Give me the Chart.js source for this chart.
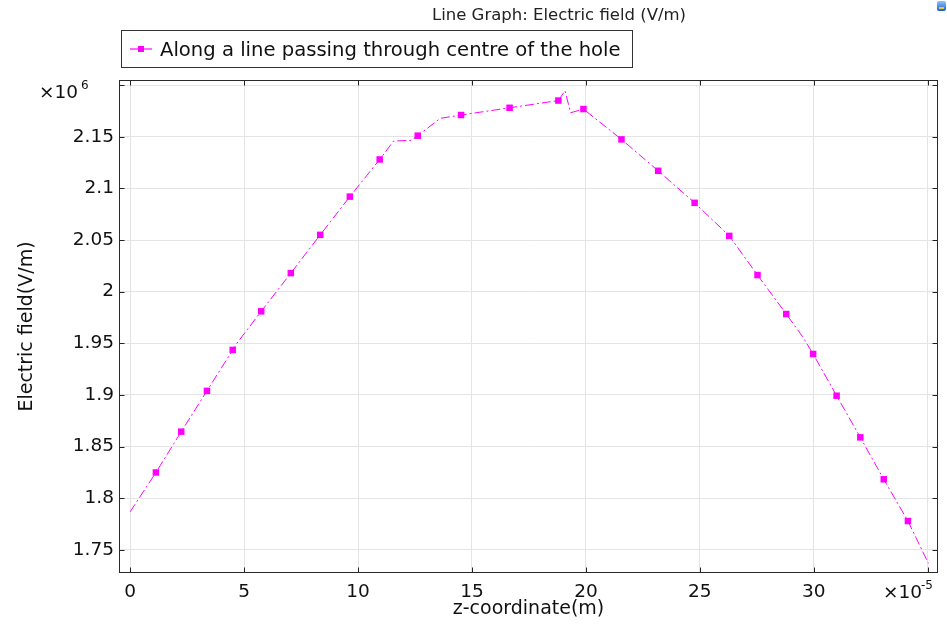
<!DOCTYPE html>
<html>
<head>
<meta charset="utf-8">
<title>Line Graph: Electric field (V/m)</title>
<script src="https://cdn.jsdelivr.net/npm/chart.js@4.4.1/dist/chart.umd.min.js"></script>
<style>
  html, body { margin: 0; padding: 0; background: #ffffff; }
  #wrap { width: 947px; height: 624px; }
</style>
</head>
<body>
<div id="wrap"><canvas id="chart" width="947" height="624"></canvas></div>
<script>
// z-coordinate in units of 1e-5 m
const zCoord = [0, 1.13, 2.24, 3.37, 4.50, 4.68, 5.75, 7.05, 8.34, 9.64, 10.95, 11.56, 12.32, 12.62,
  13.61, 14.52, 16.65, 18.79, 19.08, 19.33, 19.89, 21.56, 23.17, 24.77, 26.29, 27.53, 28.79, 29.51,
  29.97, 31.00, 32.04, 33.07, 34.13, 35.03];
// electric field in units of 1e6 V/m
const eField = [1.787, 1.825, 1.8645, 1.904, 1.9436, 1.950, 1.981, 2.018, 2.055, 2.092, 2.128, 2.1458,
  2.1465, 2.151, 2.1678, 2.171, 2.178, 2.185, 2.1945, 2.1732, 2.1768, 2.1474, 2.117, 2.086, 2.054,
  2.0161, 1.9784, 1.9564, 1.9397, 1.8993, 1.859, 1.8184, 1.778, 1.737];
// which vertices carry a square marker
const markerAt = [0, 1, 1, 1, 1, 0, 1, 1, 1, 1, 1, 0, 0, 1, 0, 1, 1, 1, 0, 0, 1, 1, 1, 1, 1, 1, 1, 0,
  1, 1, 1, 1, 1, 0];

const xTickValues = [0, 5, 10, 15, 20, 25, 30, 35];
const xTickLabels = ['0', '5', '10', '15', '20', '25', '30', ''];
const yTickValues = [1.75, 1.8, 1.85, 1.9, 1.95, 2, 2.05, 2.1, 2.15, 2.2];
const yTickLabels = ['1.75', '1.8', '1.85', '1.9', '1.95', '2', '2.05', '2.1', '2.15', ''];

const seriesLabel = 'Along a line passing through centre of the hole';
const chartTitle = 'Line Graph: Electric field (V/m)';
const xTitle = 'z-coordinate(m)';
const yTitle = 'Electric field(V/m)';

const FONT = "'DejaVu Sans', sans-serif";
const MAGENTA = '#ff00ff';

// Frame, inward ticks, exponent labels, titles and legend
const decorations = {
  id: 'decorations',
  afterDraw(chart) {
    const ctx = chart.ctx;
    const a = chart.chartArea;
    const xs = chart.scales.x, ys = chart.scales.y;
    const L = Math.round(a.left) + 0.5, R = Math.round(a.right) - 0.5;
    const T = Math.round(a.top) + 0.5, B = Math.round(a.bottom) - 0.5;
    ctx.save();

    // inward tick marks on all four sides
    ctx.strokeStyle = '#222';
    ctx.lineWidth = 1;
    ctx.beginPath();
    xTickValues.forEach(v => {
      const px = Math.round(xs.getPixelForValue(v)) + 0.5;
      ctx.moveTo(px, B); ctx.lineTo(px, B - 5);
      ctx.moveTo(px, T); ctx.lineTo(px, T + 5);
    });
    yTickValues.forEach(v => {
      const py = Math.round(ys.getPixelForValue(v)) + 0.5;
      ctx.moveTo(L, py); ctx.lineTo(L + 5, py);
      ctx.moveTo(R, py); ctx.lineTo(R - 5, py);
    });
    ctx.stroke();

    // plot frame
    ctx.strokeStyle = '#2a2a2a';
    ctx.strokeRect(L, T, R - L, B - T);

    ctx.fillStyle = '#111';
    ctx.textBaseline = 'alphabetic';

    // exponent for the y axis
    ctx.textAlign = 'left';
    ctx.font = '18.5px ' + FONT;
    ctx.fillText('\u00d710', 39, 98);
    ctx.font = '12px ' + FONT;
    ctx.fillText('6', 81, 89);

    // exponent for the x axis
    ctx.font = '18.5px ' + FONT;
    ctx.fillText('\u00d710', 883, 598);
    ctx.font = '12px ' + FONT;
    ctx.fillText('-5', 921, 589);

    // chart title
    ctx.textAlign = 'center';
    ctx.font = '16.5px ' + FONT;
    ctx.fillStyle = '#222';
    ctx.fillText(chartTitle, 559, 20);

    // axis titles
    ctx.font = '19px ' + FONT;
    ctx.fillStyle = '#111';
    ctx.fillText(xTitle, (a.left + a.right) / 2, 614);
    ctx.save();
    ctx.translate(32, (a.top + a.bottom) / 2);
    ctx.rotate(-Math.PI / 2);
    ctx.fillText(yTitle, 0, 0);
    ctx.restore();

    // legend box
    ctx.fillStyle = '#ffffff';
    ctx.fillRect(121.5, 30.5, 511, 37);
    ctx.strokeStyle = '#333';
    ctx.strokeRect(121.5, 30.5, 511, 37);
    ctx.strokeStyle = MAGENTA;
    ctx.lineWidth = 1.2;
    ctx.beginPath();
    ctx.moveTo(130, 49); ctx.lineTo(152, 49);
    ctx.stroke();
    ctx.fillStyle = MAGENTA;
    ctx.fillRect(138, 46, 6, 6);
    ctx.fillStyle = '#111';
    ctx.textAlign = 'left';
    ctx.font = '19.6px ' + FONT;
    ctx.fillText(seriesLabel, 160, 56);

    // small window icon in the corner
    const g = ctx.createLinearGradient(0, 1, 0, 11);
    g.addColorStop(0, '#8fc4ff');
    g.addColorStop(1, '#1f5fbf');
    ctx.fillStyle = g;
    ctx.beginPath();
    ctx.roundRect(937, 1, 9, 10, 2);
    ctx.fill();
    ctx.fillStyle = '#f2c230';
    ctx.fillRect(939, 7, 5, 2);

    ctx.restore();
  }
};

new Chart(document.getElementById('chart'), {
  type: 'line',
  data: {
    datasets: [{
      label: seriesLabel,
      data: zCoord.map((z, i) => ({ x: z, y: eField[i] })),
      borderColor: MAGENTA,
      backgroundColor: MAGENTA,
      borderWidth: 1,
      borderDash: [9, 3, 2, 3],
      tension: 0,
      fill: false,
      pointStyle: 'rect',
      pointRadius: c => markerAt[c.dataIndex] ? 4.6 : 0,
      pointHoverRadius: c => markerAt[c.dataIndex] ? 4.6 : 0,
      pointBorderWidth: 0,
      pointBackgroundColor: MAGENTA,
      pointBorderColor: MAGENTA
    }]
  },
  options: {
    responsive: false,
    devicePixelRatio: 1,
    animation: false,
    events: [],
    layout: { padding: { top: 80, right: 9, left: 0, bottom: 0 } },
    plugins: {
      legend: { display: false },
      title: { display: false },
      tooltip: { enabled: false }
    },
    scales: {
      x: {
        type: 'linear',
        min: -0.49,
        max: 35.45,
        afterFit: s => { s.height = 51; },
        afterBuildTicks: s => { s.ticks = xTickValues.map(v => ({ value: v })); },
        grid: { color: '#e4e4e4', lineWidth: 1, drawTicks: false },
        border: { display: false },
        ticks: {
          autoSkip: false,
          maxRotation: 0,
          padding: 8,
          color: '#111',
          font: { family: FONT, size: 18.5 },
          callback: (v, i) => xTickLabels[i]
        }
      },
      y: {
        type: 'linear',
        min: 1.7277,
        max: 2.2049,
        afterFit: s => { s.width = 119; },
        afterBuildTicks: s => { s.ticks = yTickValues.map(v => ({ value: v })); },
        grid: { color: '#e4e4e4', lineWidth: 1, drawTicks: false },
        border: { display: false },
        ticks: {
          autoSkip: false,
          padding: 5,
          color: '#111',
          font: { family: FONT, size: 18.5 },
          callback: (v, i) => yTickLabels[i]
        }
      }
    }
  },
  plugins: [decorations]
});
</script>
</body>
</html>
